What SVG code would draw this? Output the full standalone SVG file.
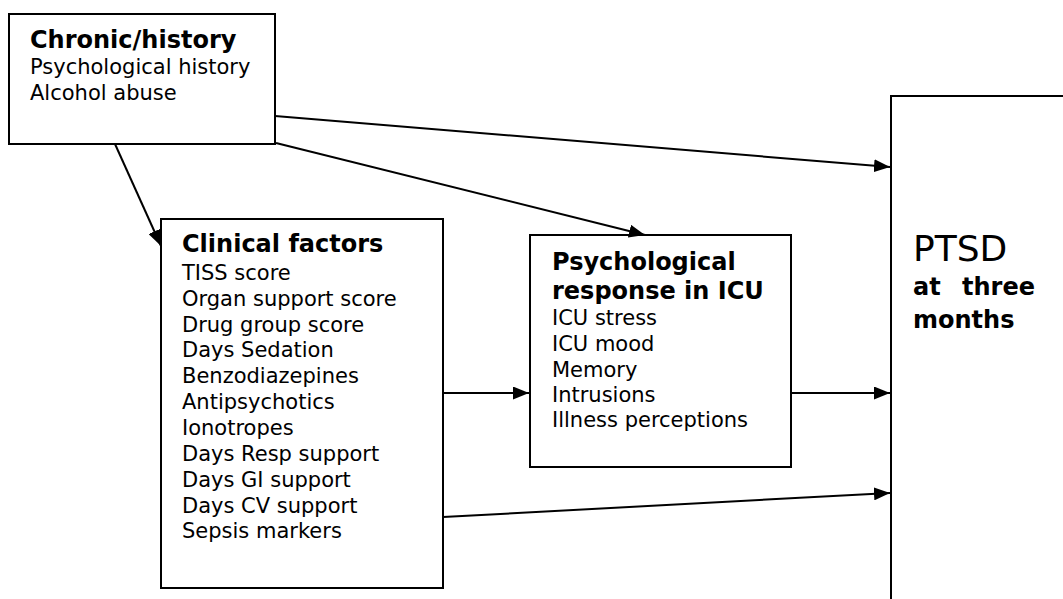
<svg xmlns="http://www.w3.org/2000/svg" width="1063" height="599" viewBox="0 0 1063 599">
<style>
.box{fill:#fff;stroke:#000;stroke-width:2}
.t{font-family:"DejaVu Sans",Verdana,sans-serif;font-size:21px;fill:#000}
.b{font-family:"DejaVu Sans",Verdana,sans-serif;font-size:24px;font-weight:bold;fill:#000}
.big{font-family:"DejaVu Sans",Verdana,sans-serif;font-size:36px;fill:#000}
.c{stroke:#000;stroke-width:2;fill:none;marker-end:url(#ah)}
</style>
<defs>
<marker id="ah" markerUnits="userSpaceOnUse" markerWidth="17" markerHeight="13" refX="16" refY="6.5" orient="auto">
<path d="M0,0 L16,6.5 L0,13 z" fill="#000"/>
</marker>
</defs>
<rect width="1063" height="599" fill="#fff"/>
<g id="chronic">
<rect class="box" x="9" y="14" width="266" height="130"/>
<text class="b" x="30" y="48">Chronic/history</text>
<text class="t" x="30" y="74">Psychological history</text>
<text class="t" x="30" y="100">Alcohol abuse</text>
</g>
<g id="clinical">
<rect class="box" x="161" y="219" width="282" height="369"/>
<text class="b" x="182" y="252">Clinical factors</text>
<text class="t" x="182" y="280">TISS score</text>
<text class="t" x="182" y="306">Organ support score</text>
<text class="t" x="182" y="332">Drug group score</text>
<text class="t" x="182" y="357">Days Sedation</text>
<text class="t" x="182" y="383">Benzodiazepines</text>
<text class="t" x="182" y="409">Antipsychotics</text>
<text class="t" x="182" y="435">Ionotropes</text>
<text class="t" x="182" y="461">Days Resp support</text>
<text class="t" x="182" y="487">Days GI support</text>
<text class="t" x="182" y="513">Days CV support</text>
<text class="t" x="182" y="538">Sepsis markers</text>
</g>
<g id="psych">
<rect class="box" x="530" y="235" width="261" height="232"/>
<text class="b" x="552" y="270">Psychological</text>
<text class="b" x="552" y="299">response in ICU</text>
<text class="t" x="552" y="325">ICU stress</text>
<text class="t" x="552" y="351">ICU mood</text>
<text class="t" x="552" y="377">Memory</text>
<text class="t" x="552" y="402">Intrusions</text>
<text class="t" x="552" y="427">Illness perceptions</text>
</g>
<g id="ptsd">
<rect class="box" x="891" y="96" width="200" height="560"/>
<text class="big" x="913" y="261">PTSD</text>
<text class="b" y="295"><tspan x="913">at</tspan><tspan x="962">three</tspan></text>
<text class="b" x="913" y="328">months</text>
</g>
<g id="connectors">
<line class="c" x1="275" y1="116" x2="890" y2="167"/>
<line class="c" x1="276" y1="143" x2="645" y2="235"/>
<line class="c" x1="115" y1="144" x2="161" y2="246"/>
<line class="c" x1="443" y1="393" x2="529" y2="393"/>
<line class="c" x1="791" y1="393" x2="890" y2="393"/>
<line class="c" x1="443" y1="517" x2="890" y2="493"/>
</g>
</svg>
